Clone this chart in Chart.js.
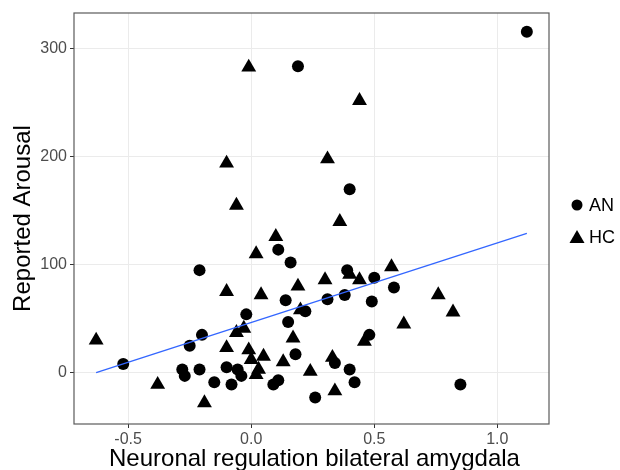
<!DOCTYPE html>
<html>
<head>
<meta charset="utf-8">
<script src="https://cdn.jsdelivr.net/npm/chart.js@4.4.1/dist/chart.umd.min.js"></script>
<style>
  html, body { margin: 0; padding: 0; background: #fff; }
  canvas { display: block; }
</style>
</head>
<body>
<canvas id="arousalChart" width="620" height="470"></canvas>
<script>
// values
const anX = [1.12, 0.19, 0.40, -0.52, -0.21, 0.11, 0.16, 0.14, 0.31, -0.02, 0.22, 0.15,
             -0.20, -0.25, 0.18, -0.28, -0.27, -0.21, -0.10, -0.055, -0.04, -0.15, -0.08,
             0.09, 0.11, 0.26, 0.34, 0.39, 0.50, 0.58, 0.38, 0.49, 0.48, 0.40, 0.42, 0.85];
const anY = [316, 284, 170, 8, 95, 114, 102, 67, 68, 54, 57, 47,
             35, 25, 17, 3, -3, 3, 5, 3, -3, -9, -11,
             -11, -7, -23, 9, 95, 88, 79, 72, 66, 35, 3, -9, -11];

const hcX = [-0.01, -0.10, 0.31, -0.06, 0.44, 0.36, -0.63, -0.38, 0.10, 0.02, -0.10, 0.04,
             0.19, 0.30, 0.20, -0.06, -0.03, 0.17, -0.10, -0.01, 0.05, 0.00, 0.13, 0.03,
             0.02, 0.24, -0.19, 0.34, 0.33, 0.40, 0.44, 0.57, 0.76, 0.82, 0.62, 0.46];
const hcY = [283, 194, 198, 155, 252, 140, 30, -11, 126, 110, 75, 72,
             80, 86, 58, 37, 41, 32, 23, 21, 15, 12, 10, 3,
             -2, 1, -28, -17, 14, 91, 86, 98, 72, 56, 45, 29];

// linear fit, drawn across the data range
const fitX = [-0.63, 1.12];
const fitY = [0, 129];

const xTicks = [-0.5, 0.0, 0.5, 1.0];
const yTicks = [0, 100, 200, 300];

const xLabel = 'Neuronal regulation bilateral amygdala';
const yLabel = 'Reported Arousal';
const groups = ['AN', 'HC'];

const FONT = '"Liberation Sans", Arial, Helvetica, sans-serif';

const toPoints = (xs, ys) => xs.map((x, i) => ({ x: x, y: ys[i] }));

// panel border, axis titles and the legend, drawn the ggplot way
const ggDecor = {
    id: 'ggDecor',
    afterDraw(chart) {
        const { ctx, chartArea: a } = chart;
        ctx.save();

        ctx.strokeStyle = '#5a5a5a';
        ctx.lineWidth = 1.2;
        ctx.strokeRect(a.left, a.top, a.right - a.left, a.bottom - a.top);

        ctx.fillStyle = '#000';
        ctx.font = '24px ' + FONT;
        ctx.textAlign = 'center';
        ctx.textBaseline = 'alphabetic';
        ctx.fillText(xLabel, (a.left + a.right) / 2 + 3, 466);

        ctx.save();
        ctx.translate(30, (a.top + a.bottom) / 2);
        ctx.rotate(-Math.PI / 2);
        ctx.fillText(yLabel, 0, 0);
        ctx.restore();

        // legend
        ctx.font = '18px ' + FONT;
        ctx.textAlign = 'left';
        ctx.textBaseline = 'middle';
        ctx.beginPath();
        ctx.arc(577, 205, 5.5, 0, Math.PI * 2);
        ctx.fill();
        ctx.fillText(groups[0], 589, 206);

        ctx.beginPath();
        ctx.moveTo(577, 230);
        ctx.lineTo(584.5, 243);
        ctx.lineTo(569.5, 243);
        ctx.closePath();
        ctx.fill();
        ctx.fillText(groups[1], 589, 238);

        ctx.restore();
    }
};

const ctx = document.getElementById('arousalChart').getContext('2d');

new Chart(ctx, {
    type: 'scatter',
    data: {
        datasets: [
            {
                type: 'line',
                label: 'fit',
                data: toPoints(fitX, fitY),
                borderColor: '#3366FF',
                borderWidth: 1.3,
                pointRadius: 0,
                fill: false,
                order: 0
            },
            {
                label: groups[0],
                data: toPoints(anX, anY),
                pointStyle: 'circle',
                pointRadius: 6,
                backgroundColor: '#000',
                borderWidth: 0,
                order: 1
            },
            {
                label: groups[1],
                data: toPoints(hcX, hcY),
                pointStyle: 'triangle',
                pointRadius: 8.6,
                backgroundColor: '#000',
                borderWidth: 0,
                order: 2
            }
        ]
    },
    options: {
        responsive: false,
        animation: false,
        devicePixelRatio: 1,
        layout: { padding: { top: 13, right: 71, left: 0, bottom: 0 } },
        plugins: {
            legend: { display: false },
            tooltip: { enabled: false }
        },
        scales: {
            x: {
                type: 'linear',
                min: -0.72,
                max: 1.21,
                afterBuildTicks: s => { s.ticks = xTicks.map(v => ({ value: v })); },
                afterFit: s => { s.height = 46; },
                border: { display: false },
                grid: {
                    color: '#EBEBEB',
                    lineWidth: 1,
                    tickColor: '#333333',
                    tickLength: 4,
                    tickWidth: 1
                },
                ticks: {
                    color: '#4D4D4D',
                    font: { family: FONT, size: 16 },
                    padding: 2,
                    autoSkip: false,
                    maxRotation: 0,
                    callback: v => v.toFixed(1)
                }
            },
            y: {
                type: 'linear',
                min: -47.6,
                max: 333.3,
                afterBuildTicks: s => { s.ticks = yTicks.map(v => ({ value: v })); },
                afterFit: s => { s.width = 74; },
                border: { display: false },
                grid: {
                    color: '#EBEBEB',
                    lineWidth: 1,
                    tickColor: '#333333',
                    tickLength: 4,
                    tickWidth: 1
                },
                ticks: {
                    color: '#4D4D4D',
                    font: { family: FONT, size: 16 },
                    padding: 3,
                    autoSkip: false,
                    callback: v => String(v)
                }
            }
        }
    },
    plugins: [ggDecor]
});
</script>
</body>
</html>
